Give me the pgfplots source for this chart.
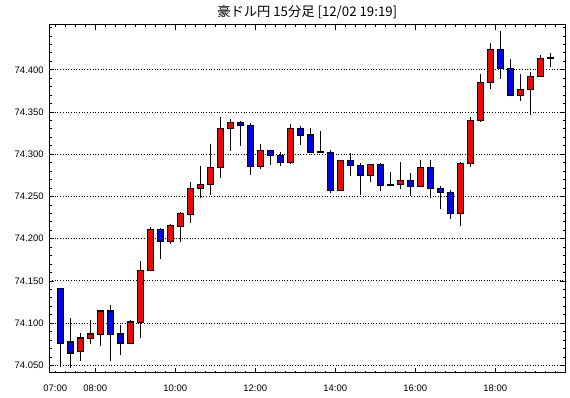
\documentclass[border=0pt]{standalone}
\usepackage{pgfplots}
\pgfplotsset{compat=1.18}
\usepackage{pgfplotstable}
\usepackage{fontspec}
\setmainfont{Liberation Sans}
\newfontfamily\cjk{Noto Sans CJK JP}
\definecolor{cred}{RGB}{255,0,0}
\definecolor{cblue}{RGB}{0,0,255}

% up candles (close > open): red
\pgfplotstableread{
x o h l c
7.625 74.0662 74.0883 74.0552 74.0824
7.875 74.0824 74.1040 74.0748 74.0871
8.125 74.0871 74.1158 74.0729 74.1143
8.875 74.0765 74.1037 74.0765 74.1013
9.125 74.1013 74.1738 74.0819 74.1620
9.375 74.1620 74.2136 74.1620 74.2112
9.875 74.1966 74.2178 74.1935 74.2151
10.125 74.2148 74.2313 74.1966 74.2293
10.375 74.2290 74.2668 74.2190 74.2597
10.625 74.2597 74.2860 74.2479 74.2644
10.875 74.2644 74.3120 74.2518 74.2845
11.125 74.2845 74.3443 74.2722 74.3306
11.375 74.3306 74.3416 74.3041 74.3377
12.125 74.2857 74.3120 74.2821 74.3046
12.875 74.2904 74.3357 74.2888 74.3306
14.125 74.2573 74.2928 74.2573 74.2928
14.875 74.2751 74.2880 74.2675 74.2880
15.625 74.2644 74.2908 74.2592 74.2691
16.125 74.2620 74.2931 74.2620 74.2845
17.125 74.2301 74.2904 74.2155 74.2892
17.375 74.2892 74.3436 74.2852 74.3400
17.625 74.3400 74.3948 74.3384 74.3850
17.875 74.3850 74.4311 74.3774 74.4240
18.625 74.3691 74.3948 74.3632 74.3767
18.875 74.3767 74.3968 74.3467 74.3921
19.125 74.3921 74.4172 74.3909 74.4133
}\up

% down candles (close < open): blue
\pgfplotstableread{
x o h l c
7.125 74.1415 74.1415 74.0476 74.0765
7.375 74.0777 74.1060 74.0470 74.0647
8.375 74.1143 74.1217 74.0552 74.0871
8.625 74.0871 74.0981 74.0626 74.0765
9.625 74.2112 74.2124 74.1758 74.1966
11.625 74.3377 74.3392 74.3100 74.3337
11.875 74.3345 74.3365 74.2758 74.2857
12.375 74.3046 74.3046 74.2872 74.2987
12.625 74.2987 74.3022 74.2864 74.2904
13.125 74.3306 74.3333 74.3112 74.3223
13.375 74.3227 74.3306 74.3014 74.3018
13.875 74.3022 74.3046 74.2538 74.2573
14.375 74.2928 74.3014 74.2746 74.2869
14.625 74.2869 74.2896 74.2521 74.2751
15.125 74.2880 74.2896 74.2561 74.2628
15.875 74.2691 74.2778 74.2502 74.2620
16.375 74.2845 74.2931 74.2486 74.2592
16.625 74.2597 74.2624 74.2356 74.2550
16.875 74.2550 74.2573 74.2238 74.2297
18.125 74.4240 74.4456 74.3892 74.4015
18.375 74.4015 74.4133 74.3691 74.3691
}\down

% doji candles (open = close)
\pgfplotstableread{
x o h l c
13.625 74.3022 74.3274 74.3015 74.3022
15.375 74.2636 74.2790 74.2636 74.2636
19.375 74.4140 74.4196 74.4034 74.4140
}\doji

\pgfplotsset{
  ebar/.style 2 args={forget plot, draw=none, no markers,
    error bars/.cd, y dir=plus, y explicit, error mark=none,
    error bar style={draw=#1, line width=#2, line cap=butt, solid}},
}

\begin{document}
\begin{tikzpicture}
\path[use as bounding box] (0,0) rectangle (570bp,398bp);
\begin{axis}[
  at={(49.3bp,25bp)}, anchor=south west,
  scale only axis, width=516bp, height=348bp,
  xmin=6.85, xmax=19.75,
  ymin=74.041, ymax=74.453,
  xtick={8,10,12,14,16,18},
  xticklabels={08:00,10:00,12:00,14:00,16:00,18:00},
  extra x ticks={7},
  extra x tick labels={07:00},
  extra x tick style={major tick length=2.5bp},
  minor xtick={7,7.25,...,19.75},
  ytick={74.05,74.1,74.15,74.2,74.25,74.3,74.35,74.4},
  minor ytick={74.05,74.06,...,74.45},
  scaled y ticks=false,
  /pgf/number format/fixed,
  /pgf/number format/fixed zerofill,
  /pgf/number format/precision=3,
  /pgf/number format/assume math mode=true,
  xticklabel style={anchor=base, yshift=-18.5bp, inner sep=0pt},
  yticklabel style={anchor=east, inner sep=0pt, xshift=-5.5bp},
  tick label style={font=\fontsize{9.5}{11}\selectfont},
  tick align=inside,
  major tick length=5bp, minor tick length=2.5bp,
  tick style={black, line width=0.8bp},
  axis line style={black, line width=1bp},
  ymajorgrids,
  major grid style={black, line width=0.9bp, dash pattern=on 0.9bp off 1.8bp},
  title={\cjk\fontsize{13.3}{15}\selectfont 豪ドル円 15分足 [12/02 19:19]},
  title style={at={(0.5,1)}, anchor=base, yshift=3bp, inner sep=0pt},
  clip=true,
]
% wicks
\addplot[ebar={black}{1.2bp}] table[x=x, y=l, y error plus expr=\thisrow{h}-\thisrow{l}] \up;
\addplot[ebar={black}{1.2bp}] table[x=x, y=l, y error plus expr=\thisrow{h}-\thisrow{l}] \down;
\addplot[ebar={black}{1.2bp}] table[x=x, y=l, y error plus expr=\thisrow{h}-\thisrow{l}] \doji;
% bodies: outline
\addplot[ebar={black}{6.8bp}] table[x=x, y expr=\thisrow{o}-0.0007, y error plus expr=\thisrow{c}-\thisrow{o}+0.0014] \up;
\addplot[ebar={black}{6.8bp}] table[x=x, y expr=\thisrow{c}-0.0007, y error plus expr=\thisrow{o}-\thisrow{c}+0.0014] \down;
% bodies: fill
\addplot[ebar={cred}{4.6bp}] table[x=x, y expr=\thisrow{o}+0.0006, y error plus expr=\thisrow{c}-\thisrow{o}-0.0012] \up;
\addplot[ebar={cblue}{4.6bp}] table[x=x, y expr=\thisrow{c}+0.0006, y error plus expr=\thisrow{o}-\thisrow{c}-0.0012] \down;
% doji bars
\addplot[ebar={black}{6.8bp}] table[x=x, y expr=\thisrow{o}-0.0011, y error plus expr=0.0022] \doji;
\end{axis}
\end{tikzpicture}
\end{document}
